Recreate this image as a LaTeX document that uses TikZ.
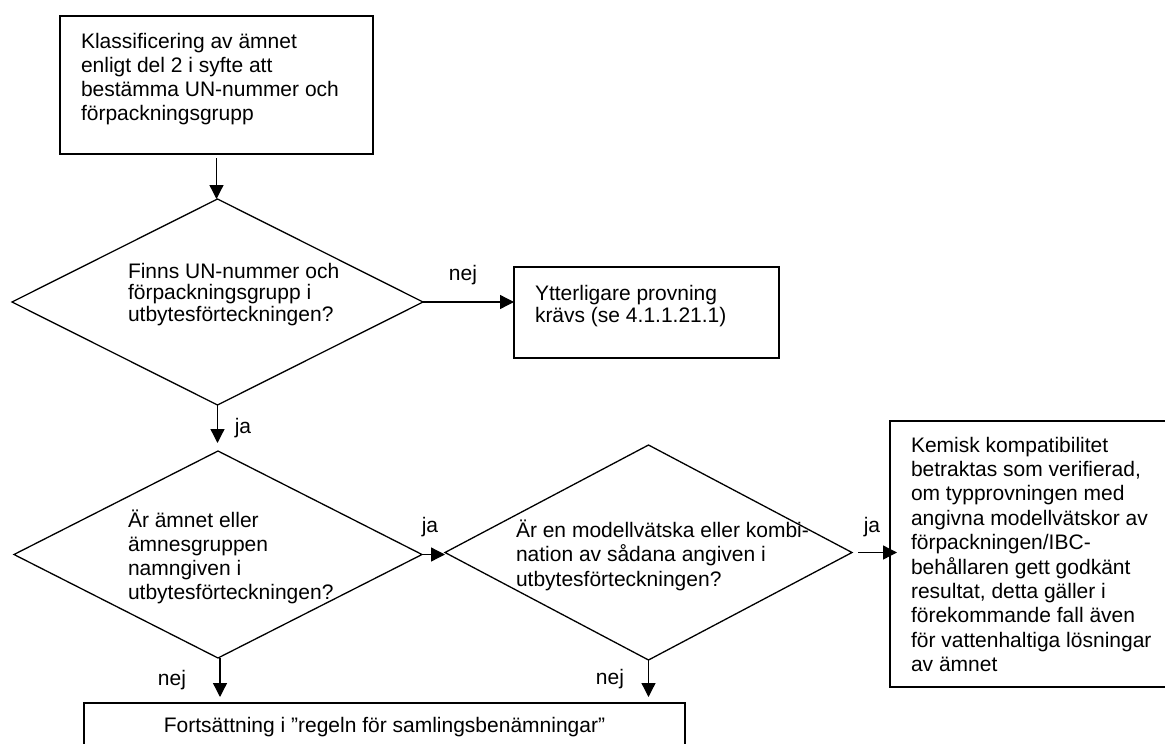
\documentclass[tikz,border=0pt]{standalone}
\usepackage{fontspec}
\setmainfont{Liberation Sans}
\usetikzlibrary{shapes.geometric,arrows.meta,calc}
\tikzset{
  boxshape/.style={draw, line width=1.3pt, rectangle, inner sep=0pt, outer sep=0pt},
  diashape/.style={draw, line width=1.3pt, diamond, inner sep=0pt, outer sep=0pt},
  txt/.style={font=\fontsize{21}{24}\selectfont, inner sep=0pt, outer sep=0pt, anchor=base west, align=left},
  lbl/.style={font=\fontsize{21}{24}\selectfont, inner sep=0pt, anchor=base},
  arr/.style={line width=1.3pt, -{Triangle[length=14pt,width=14pt]}},
}
\begin{document}
\begin{tikzpicture}[x=1pt,y=-1pt]
\useasboundingbox (0,0) rectangle (1165,744);

% shapes
\node[boxshape, minimum width=313pt, minimum height=138pt] (top) at (216.5,85) {};
\node[diashape, minimum width=411pt, minimum height=206pt] (d1) at (217.5,302) {};
\node[boxshape, minimum width=265pt, minimum height=91pt] (box2) at (646.5,312.5) {};
\node[diashape, minimum width=408pt, minimum height=207pt] (d2) at (218,554.5) {};
\node[diashape, minimum width=407pt, minimum height=215pt] (d3) at (648.5,552.5) {};
\node[boxshape, minimum width=290pt, minimum height=266pt] (tall) at (1035,554) {};
\node[boxshape, minimum width=601pt, minimum height=60pt] (bot) at (384.5,733) {};

% texts (anchor = baseline of the last line)
\node[txt] (ttop) at (81,120) {Klassificering av ämnet\\enligt del 2 i syfte att\\bestämma UN-nummer och\\förpackningsgrupp};
\node[txt, font=\fontsize{21}{21.5}\selectfont] (td1) at (128,321) {Finns UN-nummer och\\förpackningsgrupp i\\utbytesförteckningen?};
\node[txt, font=\fontsize{21}{22}\selectfont] (tbox2) at (535,322) {Ytterligare provning\\krävs (se 4.1.1.21.1)};
\node[txt] (td2) at (128,599) {Är ämnet eller\\ämnesgruppen\\namngiven i\\utbytesförteckningen?};
\node[txt, font=\fontsize{21}{24.5}\selectfont] (td3) at (516,586) {Är en modellvätska eller kombi-\\nation av sådana angiven i\\utbytesförteckningen?};
\node[txt, font=\fontsize{21}{24.4}\selectfont] (ttall) at (911,671.6) {Kemisk kompatibilitet\\betraktas som verifierad,\\om typprovningen med\\angivna modellvätskor av\\förpackningen/IBC-\\behållaren gett godkänt\\resultat, detta gäller i\\förekommande fall även\\för vattenhaltiga lösningar\\av ämnet};
\node[lbl] (tbot) at (384.5,732) {Fortsättning i ”regeln för samlingsbenämningar”};

% labels
\node[lbl] (n1) at (463,280) {nej};
\node[lbl] (j1) at (243,433) {ja};
\node[lbl] (j2) at (430,532) {ja};
\node[lbl] (j3) at (872,532) {ja};
\node[lbl] (n2) at (172,685) {nej};
\node[lbl] (n3) at (610,684) {nej};

% helper coordinates
\coordinate (a2) at ([yshift=8pt]d2.north);
\coordinate (abot) at ([yshift=6pt]bot.north);
\coordinate (d3out) at ([xshift=6pt]d3.east);
\coordinate (topout) at ([yshift=-4pt]top.south);

% connectors
\draw[arr] (topout) -- (topout |- d1.north);
\draw[arr] (d1.east) -- (d1.east -| box2.west);
\draw[arr] (d1.south) -- (d1.south |- a2);
\draw[arr] (d2.east) -- (d2.east -| d3.west);
\draw[arr] (d3out) -- ([xshift=7pt]d3out -| tall.west);
\draw[arr] ([xshift=2pt]d2.south) -- ([xshift=2pt]d2.south |- abot);
\draw[arr] (d3.south) -- (d3.south |- abot);
\end{tikzpicture}
\end{document}
